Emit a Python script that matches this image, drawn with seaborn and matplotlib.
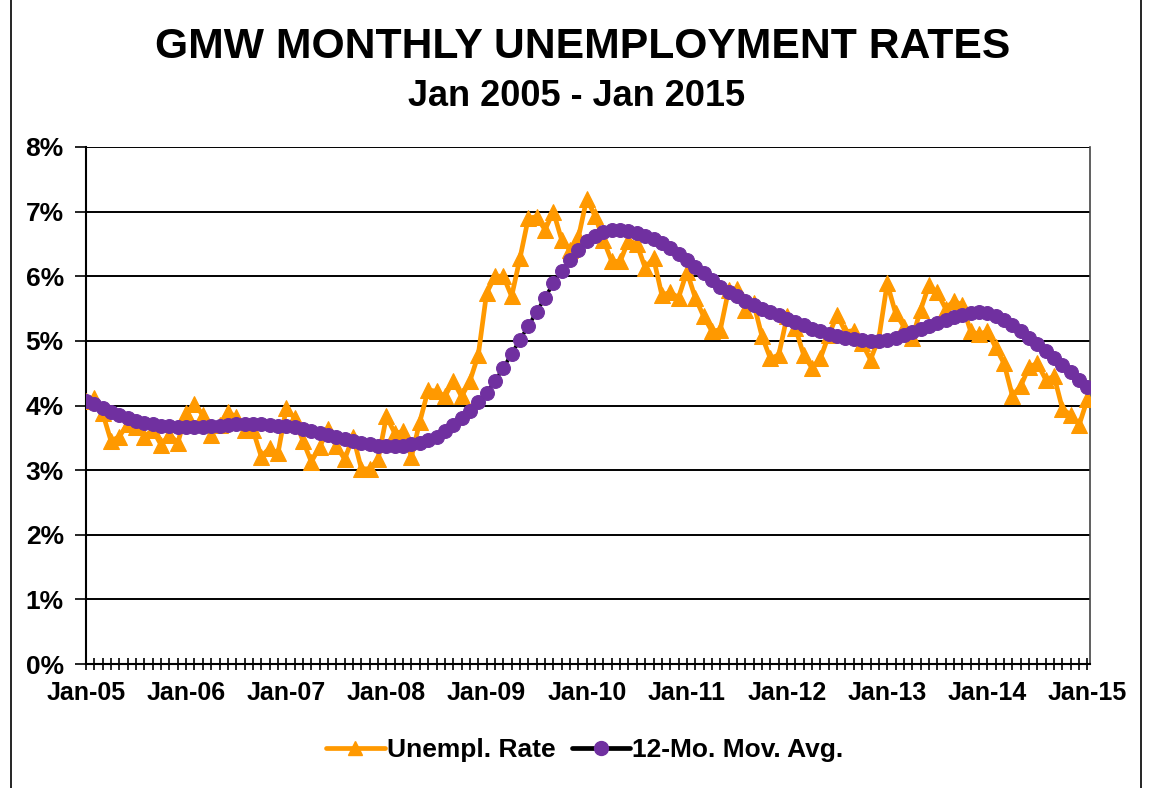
import numpy as np
import pandas as pd
import seaborn as sns
import matplotlib.pyplot as plt
from matplotlib.lines import Line2D

# monthly rates Jan 2005 .. Jan 2015 (percent)
unempl_rate = [
    4.07, 4.12, 3.88, 3.45, 3.52, 3.72, 3.67, 3.52, 3.62, 3.39, 3.55, 3.42,
    3.88, 4.02, 3.85, 3.55, 3.70, 3.90, 3.82, 3.62, 3.62, 3.21, 3.34, 3.26,
    3.96, 3.80, 3.45, 3.13, 3.36, 3.63, 3.37, 3.17, 3.52, 3.02, 3.02, 3.17,
    3.83, 3.57, 3.60, 3.21, 3.75, 4.24, 4.22, 4.14, 4.38, 4.14, 4.38, 4.78,
    5.74, 6.00, 6.00, 5.69, 6.28, 6.90, 6.92, 6.72, 7.00, 6.56, 6.40, 6.60,
    7.20, 6.93, 6.56, 6.23, 6.23, 6.55, 6.50, 6.13, 6.28, 5.71, 5.75, 5.67,
    6.07, 5.67, 5.38, 5.15, 5.17, 5.79, 5.81, 5.48, 5.58, 5.07, 4.73, 4.78,
    5.38, 5.20, 4.78, 4.58, 4.73, 5.09, 5.40, 5.14, 5.16, 4.96, 4.71, 5.04,
    5.89, 5.43, 5.22, 5.04, 5.48, 5.86, 5.75, 5.50, 5.62, 5.55, 5.15, 5.10,
    5.15, 4.90, 4.65, 4.15, 4.30, 4.60, 4.65, 4.40, 4.45, 3.95, 3.85, 3.70,
    4.10,
]

mov_avg = [
    4.07, 4.02, 3.96, 3.90, 3.85, 3.80, 3.76, 3.73, 3.71, 3.69, 3.68, 3.67,
    3.67, 3.67, 3.67, 3.68, 3.69, 3.70, 3.71, 3.72, 3.72, 3.71, 3.70, 3.69,
    3.68, 3.66, 3.63, 3.60, 3.57, 3.54, 3.51, 3.48, 3.45, 3.42, 3.40, 3.38,
    3.37, 3.37, 3.38, 3.40, 3.42, 3.46, 3.52, 3.60, 3.70, 3.80, 3.92, 4.05,
    4.19, 4.38, 4.58, 4.80, 5.02, 5.23, 5.45, 5.67, 5.89, 6.08, 6.25, 6.40,
    6.54, 6.62, 6.68, 6.71, 6.72, 6.70, 6.67, 6.63, 6.58, 6.51, 6.43, 6.34,
    6.25, 6.15, 6.05, 5.94, 5.84, 5.76, 5.69, 5.62, 5.56, 5.50, 5.45, 5.40,
    5.34, 5.29, 5.24, 5.19, 5.15, 5.11, 5.08, 5.05, 5.03, 5.01, 5.00, 5.00,
    5.02, 5.05, 5.09, 5.13, 5.18, 5.23, 5.28, 5.33, 5.37, 5.40, 5.43, 5.45,
    5.43, 5.39, 5.33, 5.25, 5.15, 5.05, 4.95, 4.85, 4.74, 4.63, 4.52, 4.40,
    4.29,
]

year_labels = ["Jan-05", "Jan-06", "Jan-07", "Jan-08", "Jan-09", "Jan-10",
               "Jan-11", "Jan-12", "Jan-13", "Jan-14", "Jan-15"]
pct_labels = ["0%", "1%", "2%", "3%", "4%", "5%", "6%", "7%", "8%"]

ORANGE = "#FF9900"
PURPLE = "#7030A0"

df = pd.DataFrame({
    "month": np.arange(len(unempl_rate)),
    "rate": unempl_rate,
    "avg": mov_avg,
})

sns.set_style("white", {"text.color": "black", "xtick.color": "black",
                        "ytick.color": "black", "axes.edgecolor": "black"})
plt.rcParams["font.family"] = ["Liberation Sans", "DejaVu Sans"]
plt.rcParams["font.weight"] = "bold"

fig = plt.figure(figsize=(11.49, 7.88), dpi=100)
ax = fig.add_axes([86 / 1149, 1 - 664 / 788, (1090 - 86) / 1149, (664 - 147) / 788])

for y in range(1, 9):
    ax.axhline(y, color="black", lw=1.4, zorder=1)

sns.lineplot(data=df, x="month", y="rate", ax=ax, color=ORANGE, lw=3.4,
             marker="^", markersize=11, markeredgecolor=ORANGE, zorder=3)
sns.lineplot(data=df, x="month", y="avg", ax=ax, color="black", lw=2.6,
             marker="o", markersize=10, markerfacecolor=PURPLE,
             markeredgecolor=PURPLE, zorder=4)

ax.set_xlim(0, 120.3)
ax.set_ylim(0, 8)
ax.set_xticks(np.arange(0, 121, 12))
ax.set_xticklabels(year_labels, fontsize=18, fontweight="bold")
ax.set_xticks(np.arange(0, 121), minor=True)
ax.set_yticks(np.arange(0, 9))
ax.set_yticklabels(pct_labels, fontsize=19, fontweight="bold")
ax.tick_params(axis="x", which="both", direction="inout", length=9, width=1.2,
               color="black", pad=8, bottom=True)
ax.tick_params(axis="y", direction="out", length=8, width=1.2, color="black",
               pad=8, left=True)
ax.set_xlabel("")
ax.set_ylabel("")

for side in ["left", "bottom"]:
    ax.spines[side].set_color("black")
    ax.spines[side].set_linewidth(1.5)
ax.spines["right"].set_color("#444444")
ax.spines["right"].set_linewidth(1.2)
ax.spines["top"].set_visible(False)

fig.text(583 / 1149, 1 - 47 / 788, "GMW MONTHLY UNEMPLOYMENT RATES", ha="center",
         va="center", fontsize=30.7, fontweight="bold", color="black")
fig.text(577 / 1149, 1 - 96 / 788, "Jan 2005 - Jan 2015", ha="center", va="center",
         fontsize=26, fontweight="bold", color="black")

handles = [
    Line2D([], [], color=ORANGE, lw=3.4, marker="^", markersize=10,
           markeredgecolor=ORANGE),
    Line2D([], [], color="black", lw=3.4, marker="o", markersize=10,
           markerfacecolor=PURPLE, markeredgecolor=PURPLE),
]
fig.legend(handles, ["Unempl. Rate", "12-Mo. Mov. Avg."], loc="center",
           bbox_to_anchor=(585 / 1149, 1 - 750 / 788), ncol=2, frameon=False,
           prop={"size": 19, "weight": "bold"}, handlelength=2.2,
           columnspacing=0.6, handletextpad=0.1)

# chart border
fig.add_artist(Line2D([11 / 1149, 11 / 1149], [0, 1], color="black", lw=1.2,
                      transform=fig.transFigure))
fig.add_artist(Line2D([1141 / 1149, 1141 / 1149], [0, 1], color="black", lw=1.2,
                      transform=fig.transFigure))

fig.savefig("out.png", dpi=100)
